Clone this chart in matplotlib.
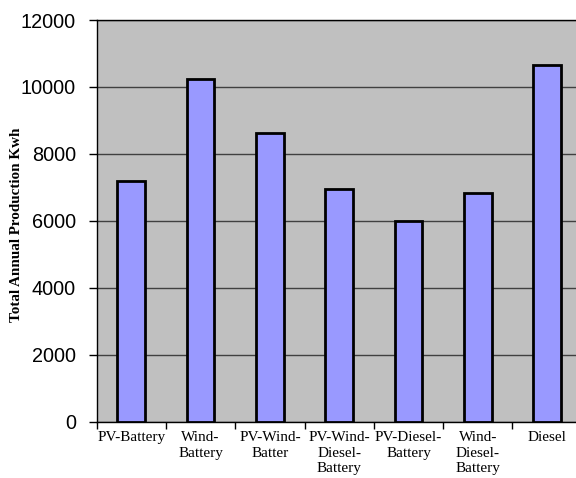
import matplotlib
matplotlib.use("Agg")
import matplotlib.pyplot as plt
import numpy as np

categories = ["PV-Battery", "Wind-\nBattery", "PV-Wind-\nBatter", "PV-Wind-\nDiesel-\nBattery",
              "PV-Diesel-\nBattery", "Wind-\nDiesel-\nBattery", "Diesel"]
production = [7200, 10250, 8620, 6960, 6000, 6830, 10660]
yticks = [0, 2000, 4000, 6000, 8000, 10000, 12000]

fig = plt.figure(figsize=(5.76, 4.78), dpi=100)
ax = fig.add_axes([96.7/576, 1-421.7/478, 485/576, (421.7-20)/478])
ax.set_facecolor("#C0C0C0")

x = np.arange(len(categories))
ax.bar(x, production, width=0.40, color="#9999FF", edgecolor="black", linewidth=2.0, zorder=3)

ax.set_xlim(-0.5, len(categories) - 0.5)
ax.set_ylim(0, 12000)
ax.set_yticks(yticks)
ax.yaxis.grid(True, color="#404040", linewidth=1.0, zorder=1)
ax.set_axisbelow(True)

ax.set_xticks(x)
ax.set_xticklabels(categories, family="Liberation Serif", fontsize=11, linespacing=1.25, va="top")
ax.set_xticks(np.arange(len(categories) + 1) - 0.5, minor=True)
ax.tick_params(axis="x", which="major", length=0, pad=7)
ax.tick_params(axis="x", which="minor", length=5, width=1, color="black")
ax.tick_params(axis="y", length=6, width=1, color="black", pad=9)
for lbl in ax.get_yticklabels():
    lbl.set_family("Liberation Sans")
    lbl.set_fontsize(14.3)

for s in ["left", "top", "bottom"]:
    ax.spines[s].set_color("black")
    ax.spines[s].set_linewidth(1.0)
ax.spines["right"].set_visible(False)

fig.text(17/576, 1-225/478, "Total Annual Production Kwh", rotation=90, ha="center", va="center",
         family="Liberation Serif", fontweight="bold", fontsize=10.9)

fig.savefig("out.png", dpi=100)
